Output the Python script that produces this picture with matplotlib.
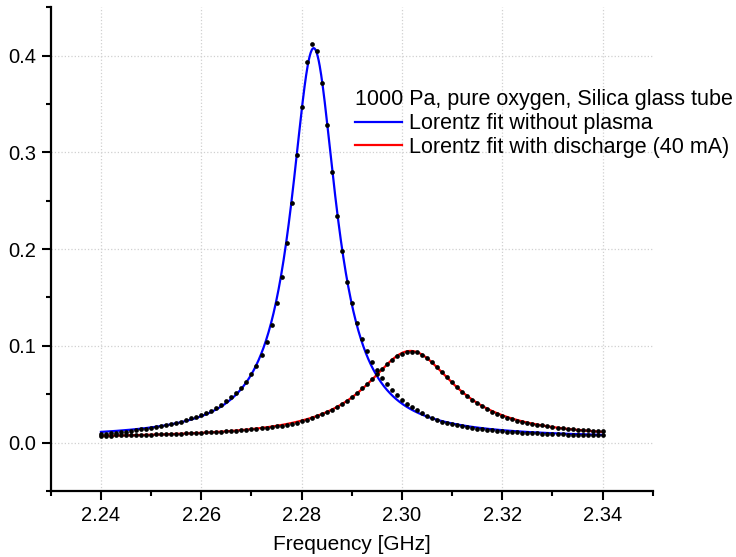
import numpy as np
import matplotlib
matplotlib.use('Agg')
import matplotlib.pyplot as plt
from matplotlib.ticker import MultipleLocator

plt.rcParams['font.family'] = ['Liberation Sans', 'DejaVu Sans']

# frequency points, 2.240 ... 2.340 GHz in 1 MHz steps
freq_start = 2.240
freq_step = 0.001

# measured points, without plasma
no_plasma = [
    0.0085, 0.0088, 0.0096, 0.0100, 0.0109, 0.0113, 0.0122, 0.0132, 0.0138, 0.0143,
    0.0155, 0.0162, 0.0174, 0.0183, 0.0192, 0.0207, 0.0218, 0.0231, 0.0250, 0.0265,
    0.0283, 0.0303, 0.0331, 0.0357, 0.0392, 0.0427, 0.0467, 0.0515, 0.0566, 0.0627,
    0.0707, 0.0794, 0.0904, 0.1041, 0.1214, 0.1439, 0.1711, 0.2066, 0.2480, 0.2974,
    0.3468, 0.3930, 0.4116, 0.4050, 0.3716, 0.3285, 0.2801, 0.2346, 0.1983, 0.1663,
    0.1445, 0.1238, 0.1076, 0.0947, 0.0834, 0.0748, 0.0673, 0.0604, 0.0549, 0.0497,
    0.0445, 0.0404, 0.0369, 0.0334, 0.0304, 0.0279, 0.0257, 0.0237, 0.0218, 0.0203,
    0.0190, 0.0178, 0.0168, 0.0159, 0.0151, 0.0144, 0.0138, 0.0132, 0.0127, 0.0122,
    0.0118, 0.0114, 0.0110, 0.0107, 0.0104, 0.0101, 0.0098, 0.0096, 0.0093, 0.0091,
    0.0089, 0.0087, 0.0085, 0.0083, 0.0081, 0.0080, 0.0078, 0.0077, 0.0076, 0.0075,
    0.0074]

# measured points, with discharge (40 mA)
discharge = [
    0.0072, 0.0072, 0.0073, 0.0074, 0.0075, 0.0076, 0.0077, 0.0078, 0.0080, 0.0081,
    0.0083, 0.0084, 0.0086, 0.0088, 0.0090, 0.0092, 0.0094, 0.0096, 0.0098, 0.0100,
    0.0103, 0.0105, 0.0108, 0.0111, 0.0114, 0.0117, 0.0121, 0.0124, 0.0128, 0.0133,
    0.0138, 0.0143, 0.0148, 0.0154, 0.0161, 0.0168, 0.0176, 0.0185, 0.0195, 0.0207,
    0.0220, 0.0235, 0.0252, 0.0271, 0.0292, 0.0315, 0.0341, 0.0369, 0.0400, 0.0434,
    0.0472, 0.0514, 0.0560, 0.0607, 0.0658, 0.0710, 0.0762, 0.0810, 0.0854, 0.0892,
    0.0920, 0.0936, 0.0940, 0.0932, 0.0909, 0.0874, 0.0830, 0.0780, 0.0727, 0.0675,
    0.0623, 0.0573, 0.0526, 0.0483, 0.0443, 0.0407, 0.0375, 0.0346, 0.0320, 0.0296,
    0.0276, 0.0258, 0.0242, 0.0228, 0.0215, 0.0204, 0.0194, 0.0185, 0.0177, 0.0169,
    0.0162, 0.0156, 0.0150, 0.0145, 0.0140, 0.0135, 0.0131, 0.0127, 0.0124, 0.0121,
    0.0118]

legend_title = '1000 Pa, pure oxygen, Silica glass tube'
label_blue = 'Lorentz fit without plasma'
label_red = 'Lorentz fit with discharge (40 mA)'

freq = freq_start + freq_step * np.arange(len(no_plasma))
no_plasma = np.array(no_plasma)
discharge = np.array(discharge)


def lorentz_fit(f, y):
    # grid over centre / width, linear least squares for offset / amplitude
    best = None
    f_peak = f[np.argmax(y)]
    for f0 in np.linspace(f_peak - 0.003, f_peak + 0.003, 61):
        for g in np.linspace(0.003, 0.02, 171):
            s = 1.0 / (1.0 + ((f - f0) / g) ** 2)
            M = np.column_stack([np.ones_like(f), s])
            coef = np.linalg.lstsq(M, y, rcond=None)[0]
            err = np.sum((M @ coef - y) ** 2)
            if best is None or err < best[0]:
                best = (err, f0, g, coef)
    _, f0, g, coef = best
    return lambda x: coef[0] + coef[1] / (1.0 + ((x - f0) / g) ** 2)


fit_blue = lorentz_fit(freq, no_plasma)
fit_red = lorentz_fit(freq, discharge)
ff = np.linspace(freq[0], freq[-1], 1001)

fig = plt.figure(figsize=(7.36, 5.57), dpi=100)
ax = fig.add_axes([0.069, 0.1185, 0.818, 0.8685])

ax.grid(True, which='major', color='#d0d0d0', linestyle=':', linewidth=0.9)
ax.set_axisbelow(True)

ax.plot(ff, fit_blue(ff), color='#0000ff', lw=1.6, label=label_blue, zorder=2)
ax.plot(ff, fit_red(ff), color='#ff0000', lw=1.6, label=label_red, zorder=2)
ax.plot(freq, no_plasma, 'o', color='black', ms=3.4, mew=0, zorder=3)
ax.plot(freq, discharge, 'o', color='black', ms=3.4, mew=0, zorder=3)

ax.set_xlim(2.23, 2.35)
ax.set_ylim(-0.05, 0.45)
ax.xaxis.set_major_locator(MultipleLocator(0.02))
ax.xaxis.set_minor_locator(MultipleLocator(0.01))
ax.yaxis.set_major_locator(MultipleLocator(0.1))
ax.yaxis.set_minor_locator(MultipleLocator(0.05))
ax.set_xticks(np.arange(2.24, 2.3401, 0.02))
ax.set_yticks(np.arange(0.0, 0.401, 0.1))
ax.xaxis.set_major_formatter(plt.FormatStrFormatter('%.2f'))
ax.yaxis.set_major_formatter(plt.FormatStrFormatter('%.1f'))

for s in ['top', 'right']:
    ax.spines[s].set_visible(False)
for s in ['left', 'bottom']:
    ax.spines[s].set_linewidth(1.6)
ax.tick_params(which='major', direction='out', length=6.8, width=1.5, labelsize=14.5, pad=4)
ax.tick_params(which='minor', direction='out', length=3.8, width=1.5)

ax.set_xlabel('Frequency [GHz]', fontsize=15, labelpad=7)

leg = ax.legend(title=legend_title, loc='upper left', bbox_to_anchor=(0.505, 0.83),
                frameon=False, fontsize=15.5, title_fontsize=15.5, handlelength=2.2,
                handletextpad=0.3, borderpad=0, labelspacing=0.12, alignment='left',
                borderaxespad=0)

fig.savefig('out.png', dpi=100)
